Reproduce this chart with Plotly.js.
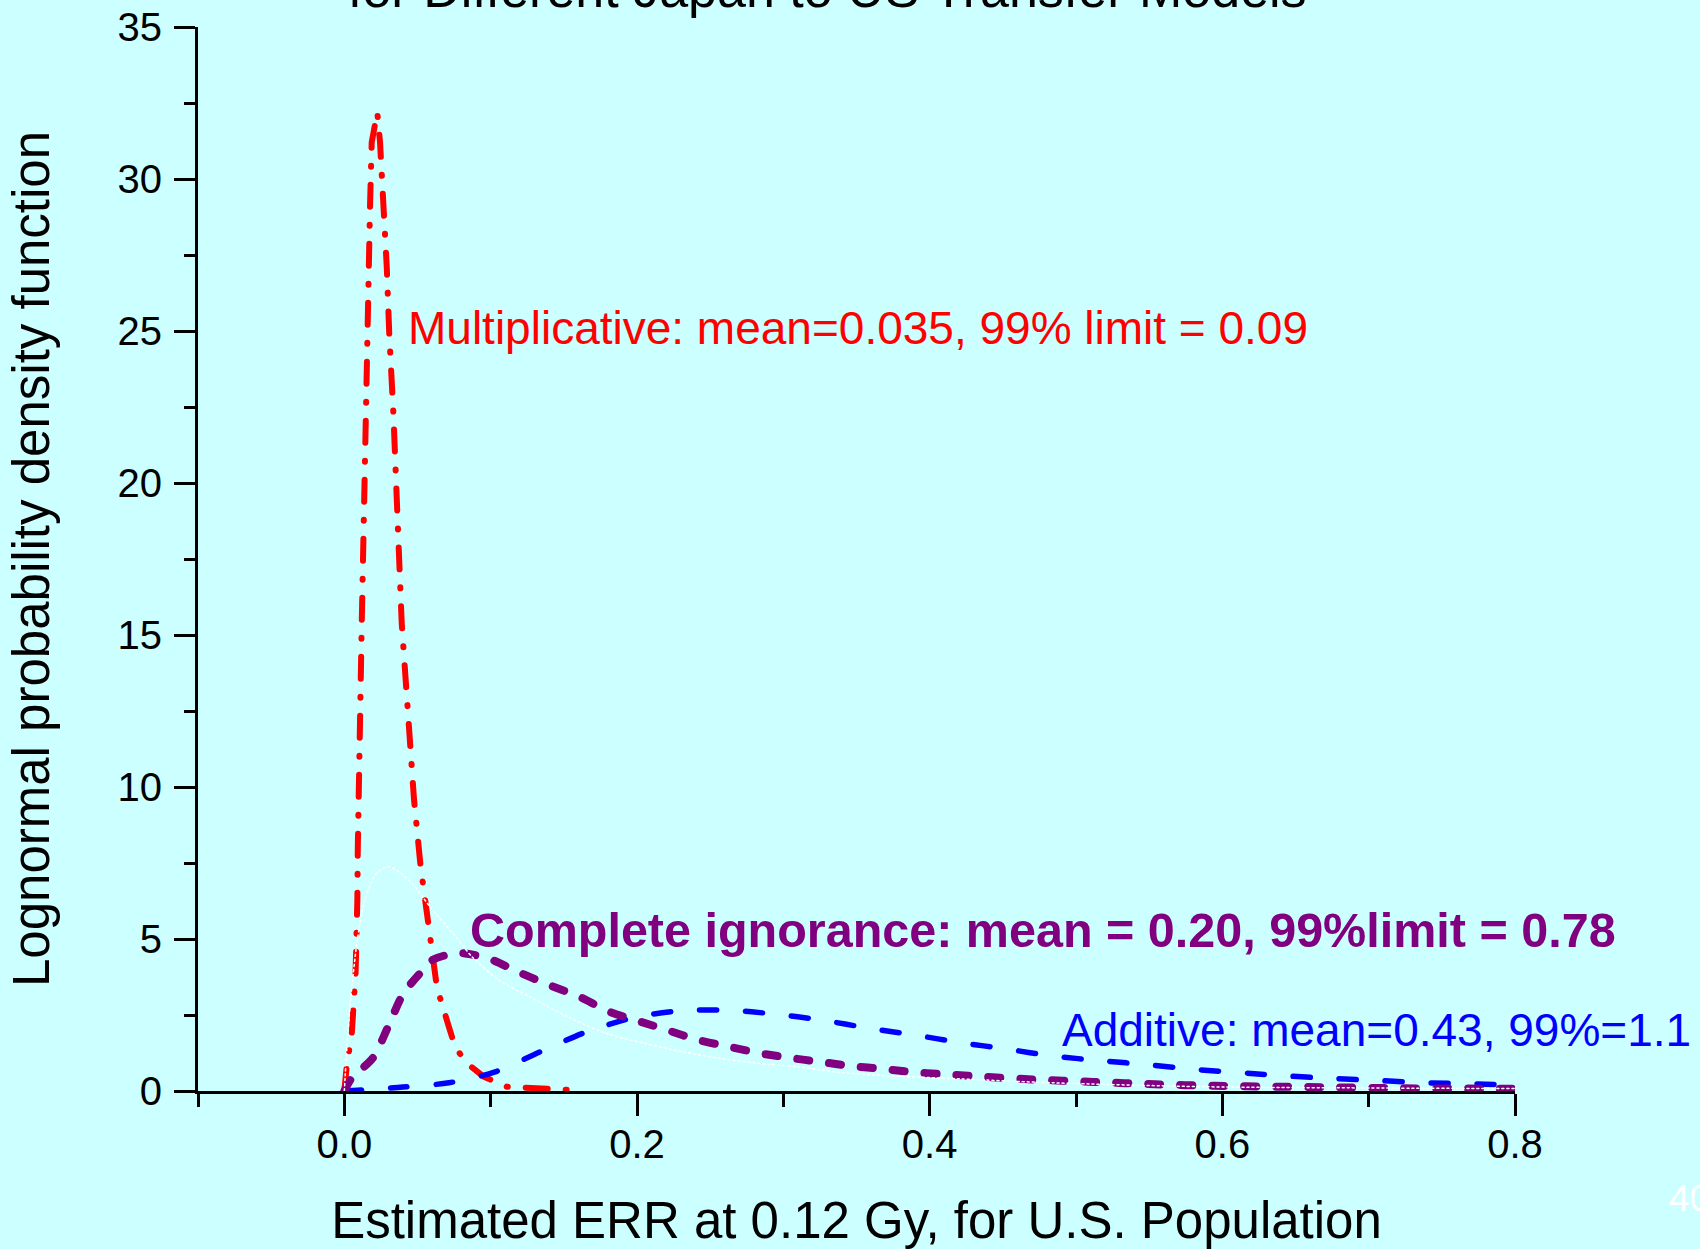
<!DOCTYPE html>
<html><head><meta charset="utf-8">
<script src="https://cdn.plot.ly/plotly-3.0.1.min.js"></script>
<style>
html,body{margin:0;padding:0;background:#ccffff;overflow:hidden;}
#chart{width:1700px;height:1249px;}
.js-line{stroke-linecap:round !important;}
</style></head><body><div id="chart"></div>
<script>
// Multiplicative transfer model (red, dash-dot)
const multX = [0, 0.0016, 0.0051, 0.0077, 0.0089, 0.0092, 0.0119, 0.0146, 0.016, 0.0176, 0.0187, 0.0225, 0.0244, 0.0271, 0.029, 0.0307, 0.0335, 0.0392, 0.0476, 0.0521, 0.0585, 0.0633, 0.0715, 0.0756, 0.0835, 0.0952, 0.111, 0.127, 0.163];
const multY = [0, 0.8, 1.9, 3.9, 6.3, 8.0, 15.4, 22.6, 27.1, 29.2, 31.2, 32.2, 31.2, 29.0, 27.1, 24.9, 22.3, 15.4, 9.6, 7.4, 4.9, 3.4, 2.1, 1.46, 0.92, 0.47, 0.14, 0.1, 0.01];
// Complete ignorance (purple, short dash)
const ignX = [0, 0.0051, 0.0194, 0.0298, 0.0403, 0.056, 0.0599, 0.077, 0.0978, 0.1186, 0.1397, 0.1606, 0.1815, 0.2024, 0.2207, 0.2416, 0.2625, 0.2832, 0.3043, 0.3252, 0.3461, 0.3696, 0.3865, 0.409, 0.43, 0.47, 0.512, 0.554, 0.595, 0.638, 0.679, 0.721, 0.762, 0.8];
const ignY = [0, 0.43, 1.08, 2.1, 3.2, 4.1, 4.3, 4.54, 4.37, 3.92, 3.49, 3.1, 2.6, 2.28, 2.0, 1.68, 1.46, 1.25, 1.09, 0.96, 0.82, 0.72, 0.63, 0.55, 0.49, 0.38, 0.30, 0.22, 0.17, 0.14, 0.12, 0.09, 0.08, 0.07];
// Additive transfer model (blue, long dash)
const addX = [0, 0.04, 0.0715, 0.103, 0.1343, 0.1657, 0.1998, 0.2311, 0.2625, 0.2939, 0.3252, 0.3592, 0.39, 0.4212, 0.4526, 0.484, 0.5189, 0.5503, 0.5817, 0.6131, 0.6459, 0.6773, 0.7088, 0.7402, 0.7733, 0.8];
const addY = [0, 0.13, 0.27, 0.63, 1.3, 1.95, 2.44, 2.64, 2.66, 2.53, 2.34, 2.06, 1.84, 1.59, 1.38, 1.15, 0.99, 0.86, 0.71, 0.6, 0.49, 0.41, 0.34, 0.27, 0.23, 0.2];
// Unlabelled curve (white, dotted)
const whtX = [0, 0.0024, 0.0051, 0.0089, 0.0141, 0.022, 0.0298, 0.0377, 0.0482, 0.0585, 0.0742, 0.0872, 0.1056, 0.1266, 0.1528, 0.1787, 0.205, 0.2311, 0.2573, 0.2832, 0.3095, 0.3357, 0.3618, 0.42, 0.484, 0.588, 0.7, 0.8];
const whtY = [0, 1.9, 3.4, 4.97, 6.3, 7.16, 7.38, 7.2, 6.72, 6.06, 5.19, 4.42, 3.65, 3.1, 2.44, 1.9, 1.57, 1.29, 1.07, 0.91, 0.8, 0.63, 0.53, 0.4, 0.27, 0.14, 0.1, 0.08];

const xTickVals = [0, 0.2, 0.4, 0.6, 0.8];
const xTickText = ['0.0', '0.2', '0.4', '0.6', '0.8'];
const yTickVals = [0, 5, 10, 15, 20, 25, 30, 35];
const yTickText = ['0', '5', '10', '15', '20', '25', '30', '35'];

const titleText = 'for Different Japan to US Transfer Models';
const xTitle = 'Estimated ERR at 0.12 Gy, for U.S. Population';
const yTitle = 'Lognormal probability density function';
const multLabel = 'Multiplicative: mean=0.035, 99% limit = 0.09';
const ignLabel = 'Complete ignorance: mean = 0.20, 99%limit = 0.78';
const addLabel = 'Additive: mean=0.43, 99%=1.1';
const pageNo = '40';

const FONT = 'Arial, "Liberation Sans", sans-serif';
const BG = '#ccffff';

const traces = [
  {x: multX, y: multY, mode: 'lines', line: {color: '#ff0000', width: 6, dash: '22px,18px,1px,18px'}, name: 'Multiplicative'},
  {x: addX, y: addY, mode: 'lines', line: {color: '#0000ff', width: 5.5, dash: '17px,29px', shape: 'spline', smoothing: 0.8}, name: 'Additive'},
  {x: ignX, y: ignY, mode: 'lines', line: {color: '#800080', width: 8, dash: '12px,20px', shape: 'spline', smoothing: 0.8}, name: 'Complete ignorance'},
  {x: whtX, y: whtY, mode: 'lines', line: {color: '#ffffff', width: 1.5, dash: '2px,3px', shape: 'spline', smoothing: 0.8}, name: 'other'}
];

const layout = {
  width: 1700, height: 1249,
  paper_bgcolor: BG, plot_bgcolor: BG,
  margin: {l: 198, r: 185, t: 27, b: 158},
  showlegend: false,
  font: {family: FONT, color: '#000000', size: 40},
  xaxis: {
    range: [-0.1, 0.8], showgrid: false, zeroline: false,
    showline: true, linecolor: '#000000', linewidth: 3,
    ticks: 'outside', ticklen: 22, tickwidth: 3, tickcolor: '#000000',
    tickvals: xTickVals, ticktext: xTickText, ticklabelstandoff: -6,
    tickfont: {size: 40, family: FONT, color: '#000000'},
    minor: {dtick: 0.1, tick0: 0, ticks: 'outside', ticklen: 13, tickwidth: 3, tickcolor: '#000000', showgrid: false},
    title: {text: xTitle, font: {size: 51, family: FONT, color: '#000000'}, standoff: 44},
    automargin: false
  },
  yaxis: {
    range: [0, 35], showgrid: false, zeroline: false,
    showline: true, linecolor: '#000000', linewidth: 3,
    ticks: 'outside', ticklen: 21, tickwidth: 3, tickcolor: '#000000',
    tickvals: yTickVals, ticktext: yTickText, ticklabelstandoff: 4,
    tickfont: {size: 40, family: FONT, color: '#000000'},
    minor: {dtick: 2.5, tick0: 0, ticks: 'outside', ticklen: 11, tickwidth: 3, tickcolor: '#000000', showgrid: false},
    title: {text: yTitle, font: {size: 51, family: FONT, color: '#000000'}, standoff: 52},
    automargin: false
  },
  annotations: [
    {text: titleText, xref: 'paper', yref: 'paper', x: 0.478, y: 1, xanchor: 'center', yanchor: 'middle', yshift: 38, showarrow: false, font: {size: 52, family: FONT, color: '#000000'}},
    {text: multLabel, xref: 'x', yref: 'y', x: 0.0421, y: 25.1, xanchor: 'left', yanchor: 'middle', showarrow: false, font: {size: 46, family: FONT, color: '#ff0000'}},
    {text: '<b>' + ignLabel + '</b>', xref: 'x', yref: 'y', x: 0.0845, y: 5.3, xanchor: 'left', yanchor: 'middle', showarrow: false, font: {size: 48.5, family: FONT, color: '#800080'}},
    {text: addLabel, xref: 'x', yref: 'y', x: 0.4890, y: 2.0, xanchor: 'left', yanchor: 'middle', showarrow: false, font: {size: 46, family: FONT, color: '#0000ff'}},
    {text: pageNo, xref: 'paper', yref: 'paper', x: (1667 - 198) / 1317, y: -(1198 - 1091) / 1064, xanchor: 'left', yanchor: 'middle', showarrow: false, font: {size: 37, family: FONT, color: '#ffffff'}}
  ]
};

Plotly.newPlot('chart', traces, layout, {staticPlot: true, displayModeBar: false});
</script></body></html>
